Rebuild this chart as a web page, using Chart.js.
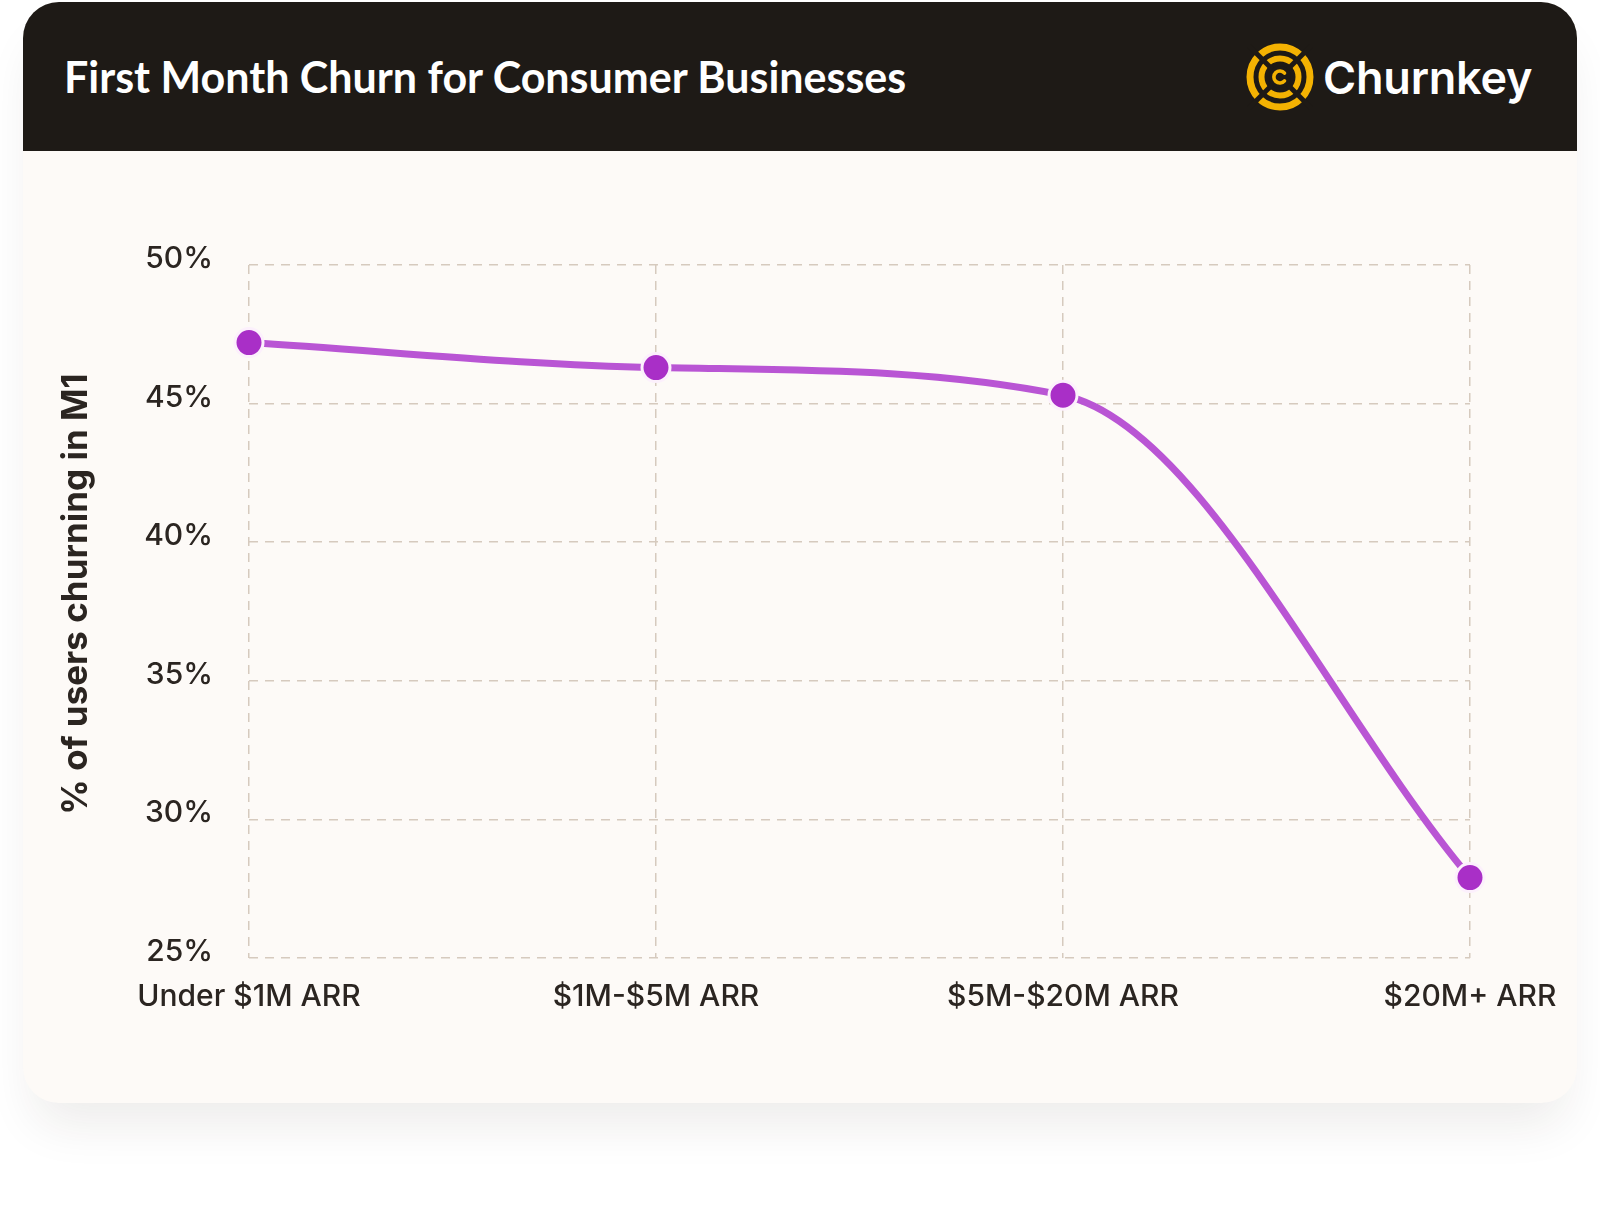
<!DOCTYPE html>
<html>
<head>
<meta charset="utf-8">
<title>First Month Churn for Consumer Businesses</title>
<script src="https://cdn.jsdelivr.net/npm/chart.js@4.4.1/dist/chart.umd.min.js"></script>
<style>
  html, body { margin: 0; padding: 0; background: #ffffff; }
  body { width: 1600px; height: 1208px; position: relative; overflow: hidden; }
  .card {
    position: absolute; left: 23px; top: 2px; width: 1554px; height: 1101px;
    border-radius: 36px; background: #fdfaf7; overflow: hidden;
    box-shadow: 0 32px 50px -12px rgba(40, 30, 20, 0.09);
  }
  .header { position: absolute; left: 0; top: 0; width: 100%; height: 149px; background: #1e1a16; }
  .title {
    position: absolute; left: 41px; top: 53px; margin: 0;
    font: 700 43px/43px Lato, "Noto Sans", sans-serif; color: #ffffff; white-space: nowrap;
  }
  .logo { position: absolute; left: 1222px; top: 40px; width: 70px; height: 70px; }
  .brand {
    position: absolute; left: 1300px; top: 53px;
    font: 600 45px/45px Inter, sans-serif; color: #ffffff; letter-spacing: -0.2px;
  }
  .chart-wrap { position: absolute; left: 0; top: 149px; width: 1554px; height: 952px; }
</style>
</head>
<body>
<div class="card">
  <div class="header">
    <h1 class="title">First Month Churn for Consumer Businesses</h1>
    <svg class="logo" viewBox="0 0 70 70">
      <g fill="none" stroke="#f4b202">
        <circle cx="35" cy="35" r="30" stroke-width="7"/>
        <circle cx="35" cy="35" r="18.5" stroke-width="6"/>
      </g>
      <g stroke="#1e1a16" stroke-width="5">
        <line x1="4" y1="4" x2="66" y2="66"/>
        <line x1="66" y1="4" x2="4" y2="66"/>
      </g>
      <circle cx="35" cy="35" r="11" fill="#1e1a16"/>
      <path d="M39.5 31.2 A6 6 0 1 0 39.5 38.8" fill="none" stroke="#f4b202" stroke-width="3.6" stroke-linecap="round"/>
    </svg>
    <div class="brand">Churnkey</div>
  </div>
  <div class="chart-wrap"><canvas id="churnChart"></canvas></div>
</div>
<script>
// ARR bands and first-month churn (%)
const categories = ["Under $1M ARR", "$1M-$5M ARR", "$5M-$20M ARR", "$20M+ ARR"];
const churnRates = [47.2, 46.3, 45.3, 27.9];
const yTicks = [25, 30, 35, 40, 45, 50];

const textColor = "#2b2521";
const gridColor = "#d6cabe";

const ctx = document.getElementById("churnChart").getContext("2d");

new Chart(ctx, {
    type: "line",
    data: {
        labels: categories,
        datasets: [
            {
                label: "% of users churning in M1",
                data: churnRates,
                borderColor: "#b955d4",
                borderWidth: 7,
                cubicInterpolationMode: "monotone",
                pointRadius: 14,
                pointBackgroundColor: "#a92fc7",
                pointBorderColor: "#fcf0fc",
                pointBorderWidth: 3,
                clip: false,
            },
        ],
    },
    options: {
        responsive: true,
        maintainAspectRatio: false,
        animation: false,
        layout: {
            padding: { top: 114, right: 107, bottom: 0, left: 0 },
        },
        plugins: {
            legend: { display: false },
            tooltip: { enabled: false },
        },
        scales: {
            x: {
                offset: false,
                grid: { color: gridColor, lineWidth: 1.5, drawTicks: false },
                border: { display: false, dash: [9, 7] },
                ticks: {
                    color: textColor,
                    font: { family: "Inter", size: 30, weight: 500 },
                    padding: 21,
                    maxRotation: 0,
                    autoSkip: false,
                },
                afterFit: (scale) => {
                    scale.height = 145;
                    scale.paddingLeft = 0;
                    scale.paddingRight = 0;
                },
            },
            y: {
                min: 25,
                max: 50,
                grid: { color: gridColor, lineWidth: 1.5, drawTicks: false },
                border: { display: false, dash: [9, 7] },
                ticks: {
                    color: textColor,
                    font: { family: "Inter", size: 30, weight: 500 },
                    padding: 36,
                    labelOffset: -6,
                    callback: (value) => value + "%",
                },
                afterBuildTicks: (scale) => {
                    scale.ticks = yTicks.map((v) => ({ value: v }));
                },
                title: {
                    display: true,
                    // two en spaces nudge the rotated title up, as in the original
                    text: "\u2002\u2002% of users churning in M1",
                    color: textColor,
                    font: { family: "Inter", size: 35, weight: "bold" },
                    padding: { top: 32, bottom: 0 },
                },
                afterFit: (scale) => {
                    scale.width = 226;
                    scale.paddingTop = 0;
                    scale.paddingBottom = 0;
                },
            },
        },
    },
});
</script>
</body>
</html>
